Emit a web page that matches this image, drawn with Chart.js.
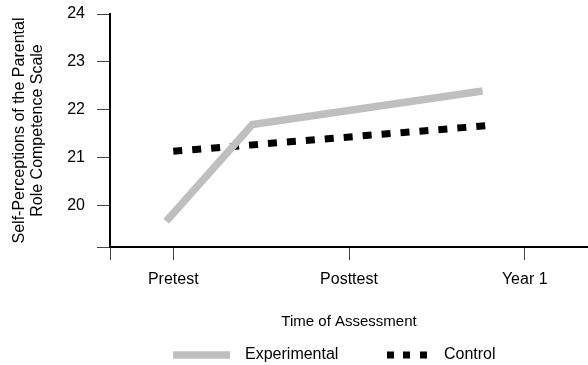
<!DOCTYPE html>
<html>
<head>
<meta charset="utf-8">
<script src="https://cdn.jsdelivr.net/npm/chart.js@4.4.1/dist/chart.umd.min.js"></script>
<style>
  html, body { margin: 0; padding: 0; background: #fff; }
  #wrap { width: 588px; height: 365px; }
</style>
</head>
<body>
<div id="wrap"><canvas id="chart" width="588" height="365"></canvas></div>
<script>
// data
let categories = ["Pretest", "Posttest", "Year 1"];
let yTicks = [20, 21, 22, 23, 24];
let expX = [-0.04, 0.45, 1.76];
let expY = [19.67, 21.69, 22.39];
let ctrlX = [0, 1.8];
let ctrlY = [21.13, 21.67];

let xMin = -0.36, xMax = 2.36;
let yMin = 19.13, yMax = 24;

let gray = "#bfbfbf";
let font = "'Liberation Sans', Arial, sans-serif";
let padLeft = 57;

let toPoints = (xs, ys) => xs.map((x, i) => ({ x: x, y: ys[i] }));

let chart = document.querySelector("#chart");
new Chart(chart, {
  type: 'line',
  data: {
    datasets: [
      {
        label: "Experimental",
        data: toPoints(expX, expY),
        borderColor: gray,
        backgroundColor: gray,
        borderWidth: 7.5,
        borderCapStyle: 'butt',
        pointRadius: 0,
        tension: 0,
        fill: false
      },
      {
        label: "Control",
        data: toPoints(ctrlX, ctrlY),
        borderColor: "#000",
        backgroundColor: "#000",
        borderWidth: 7,
        borderDash: [9, 10],
        borderCapStyle: 'butt',
        pointRadius: 0,
        tension: 0,
        fill: false
      }
    ]
  },
  options: {
    responsive: false,
    animation: false,
    layout: { padding: { top: 14, left: padLeft, right: 0, bottom: -8 } },
    plugins: {
      tooltip: { enabled: false },
      legend: {
        position: 'bottom',
        labels: {
          usePointStyle: true,
          pointStyleWidth: 87.6,
          padding: 10,
          color: "#000",
          font: { family: font, size: 16 },
          generateLabels: () => [
            { text: "Experimental", fillStyle: gray, strokeStyle: gray, lineWidth: 7.5,
              lineCap: 'butt', lineDash: [0, 23.6, 57, 200], pointStyle: 'line', datasetIndex: 0, fontColor: "#000" },
            { text: "Control", fillStyle: "#000", strokeStyle: "#000", lineWidth: 7,
              lineCap: 'butt', lineDash: [0, 38.6, 7, 9, 7, 10, 7, 200], pointStyle: 'line', datasetIndex: 1, fontColor: "#000" }
          ]
        }
      }
    },
    scales: {
      x: {
        type: 'linear',
        min: xMin,
        max: xMax,
        afterBuildTicks: (scale) => {
          scale.ticks = [xMin, 0, 1, 2].map(v => ({ value: v }));
        },
        afterFit: (scale) => { scale.height = 90; },
        ticks: {
          color: "#000",
          padding: 10,
          maxRotation: 0,
          font: { family: font, size: 16 },
          callback: (v) => categories[v] || ''
        },
        grid: { drawOnChartArea: false, drawTicks: true, tickLength: 13, color: "#444", lineWidth: 1 },
        border: { display: true, color: "#000", width: 2 },
        title: {
          display: true,
          text: "Time of Assessment",
          color: "#000",
          font: { family: font, size: 15, lineHeight: 1.2 },
          padding: { top: 0, bottom: 6 }
        }
      },
      y: {
        min: yMin,
        max: yMax,
        afterBuildTicks: (scale) => {
          scale.ticks = [yMin].concat(yTicks).map(v => ({ value: v }));
        },
        afterFit: (scale) => {
          scale.width = 110 - padLeft;
          scale.paddingTop = 0;
          scale.paddingBottom = 0;
        },
        ticks: {
          color: "#000",
          padding: 12,
          font: { family: font, size: 16 },
          callback: (v) => yTicks.includes(v) ? v : ''
        },
        grid: { drawOnChartArea: false, drawTicks: true, tickLength: 13, color: "#444", lineWidth: 1 },
        border: { display: true, color: "#000", width: 2 },
        title: {
          display: true,
          text: ["Self-Perceptions of the Parental", "Role Competence Scale"],
          color: "#000",
          font: { family: font, size: 16, lineHeight: 1.125 },
          padding: { top: -46, bottom: 0 }
        }
      }
    }
  }
});
</script>
</body>
</html>
